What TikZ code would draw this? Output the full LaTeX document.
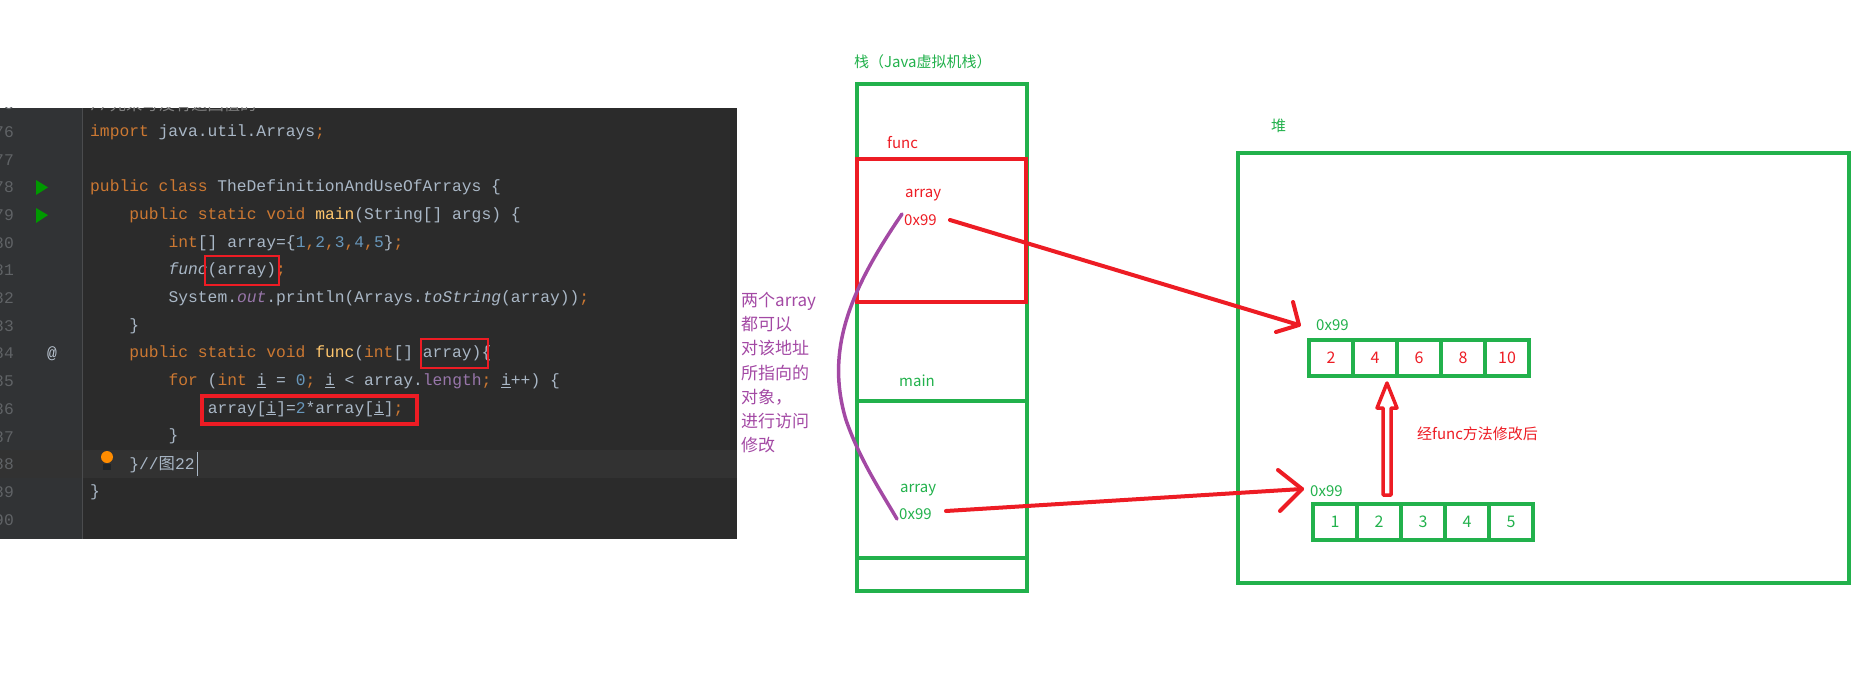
\documentclass[tikz,border=0pt]{standalone}
\usepackage{fontspec}
\setmonofont{Liberation Mono}
\newfontfamily\cjk{Noto Sans CJK SC}
\definecolor{bg}{HTML}{2B2B2B}
\definecolor{gut}{HTML}{313335}
\definecolor{hl}{HTML}{323232}
\definecolor{lnum}{HTML}{606366}
\definecolor{ckw}{HTML}{CC7832}
\definecolor{cpl}{HTML}{A9B7C6}
\definecolor{cnm}{HTML}{6897BB}
\definecolor{cfn}{HTML}{FFC66D}
\definecolor{cfd}{HTML}{9876AA}
\definecolor{ccm}{HTML}{808080}
\definecolor{gr}{HTML}{22B14C}
\definecolor{rd}{HTML}{ED1C24}
\definecolor{pu}{HTML}{A349A4}
\newcommand{\kw}[1]{\textcolor{ckw}{#1}}
\newcommand{\nm}[1]{\textcolor{cnm}{#1}}
\newcommand{\fn}[1]{\textcolor{cfn}{#1}}
\newcommand{\fd}[1]{\textcolor{cfd}{#1}}
\newcommand{\ul}[1]{\underline{#1}}
\tikzset{
  code/.style={anchor=west,inner sep=0,font=\ttfamily\fontsize{16.3}{18}\selectfont,text=cpl},
  lno/.style={anchor=east,inner sep=0,font=\ttfamily\fontsize{16.3}{18}\selectfont,text=lnum},
  lab/.style={anchor=west,inner sep=0,font=\cjk\fontsize{15}{18}\selectfont},
  gbox/.style={draw=gr,line width=4pt},
  rline/.style={draw=rd,line width=4pt,line cap=round,line join=round},
}
\begin{document}
\begin{tikzpicture}[x=1pt,y=-1pt]
\useasboundingbox (0,0) rectangle (1869,690);
% code panel
\begin{scope}
\clip (0,108) rectangle (737,539);
\fill[bg] (0,108) rectangle (737,539);
\fill[gut] (0,108) rectangle (82,539);
\fill[hl] (0,450) rectangle (737,478);
\draw[lnum!60!bg] (82,108) -- (82,539);
\node[code,text=ccm] (l75) at (90,104) {//{\cjk 先来写没有返回值的}};
\foreach \n/\yy in {75/104,76/132,77/159.7,78/187.4,79/215.1,80/242.8,81/270.5,82/298.2,83/325.9,84/353.6,85/381.3,86/409,87/436.7,88/464.4,89/492.1,90/519.8}
  \node[lno] (n\n) at (14,\yy) {\n};
\node[code] (l76) at (90,132) {\kw{import} java.util.Arrays\kw{;}};
\node[code] (l78) at (90,187.4) {\kw{public class} TheDefinitionAndUseOfArrays \{};
\node[code] (l79) at (129.2,215.1) {\kw{public static void} \fn{main}(String[] args) \{};
\node[code] (l80) at (168.4,242.8) {\kw{int}[] array=\{\nm{1}\kw{,}\nm{2}\kw{,}\nm{3}\kw{,}\nm{4}\kw{,}\nm{5}\}\kw{;}};
\node[code] (l81) at (168.4,270.5) {\textit{func}(array)\kw{;}};
\node[code] (l82) at (168.4,298.2) {System.\fd{\textit{out}}.println(Arrays.\textit{toString}(array))\kw{;}};
\node[code] (l83) at (129.2,325.9) {\}};
\node[code] (l84) at (129.2,353.6) {\kw{public static void} \fn{func}(\kw{int}[] array)\{};
\node[code] (l85) at (168.4,381.3) {\kw{for} (\kw{int} \ul{i} = \nm{0}\kw{;} \ul{i} < array.\fd{length}\kw{;} \ul{i}++) \{};
\node[code] (l86) at (207.6,409) {array[\ul{i}]=\nm{2}*array[\ul{i}]\kw{;}};
\node[code] (l87) at (168.4,436.7) {\}};
\node[code] (l88) at (129.2,464.4) {\}//{\cjk 图}22};
\node[code] (l89) at (90,492.1) {\}};
\draw[cpl] (197,452) -- (197,476);
\fill[green!60!black] (36,180) -- (48,187.4) -- (36,195) -- cycle;
\fill[green!60!black] (36,208) -- (48,215.1) -- (36,223) -- cycle;
\node[code,text=cpl!80!white] (at84) at (47,353.6) {@};
\fill[orange!90!yellow] (107,457) circle (6);
\fill[lnum!140] (103,464) rectangle (111,470);
\draw[rd,line width=1.2pt] (205,256) rectangle (279,285);
\draw[rd,line width=1.2pt] (421,339) rectangle (488,368);
\draw[rd,line width=4pt] (202,396) rectangle (417,424);
\end{scope}
% stack
\node[lab,text=gr] (stt) at (854,62) {栈（Java虚拟机栈）};
\draw[gbox] (857,84) rectangle (1027,591);
\draw[gr,line width=4pt] (857,401) -- (1027,401);
\draw[gr,line width=4pt] (857,558) -- (1027,558);
\draw[rd,line width=4pt] (857,159) rectangle (1026,302);
\node[lab,text=rd] (func) at (887,143) {func};
\node[lab,text=rd] (a1) at (905,195) {array};
\node[lab,text=rd] (p1) at (904,220) {0x99};
\node[lab,text=gr] (mn) at (899,381) {main};
\node[lab,text=gr] (a2) at (900,490) {array};
\node[lab,text=gr] (p2) at (899,514) {0x99};
% purple note
\node[lab,text=pu,anchor=north west,align=left,font=\cjk\fontsize{17}{24.2}\selectfont] (note) at (741,292)
 {两个array\\都可以\\对该地址\\所指向的\\对象，\\进行访问\\修改};
\coordinate (c1) at (902,214);
\coordinate (c2) at (897,519);
\draw[pu,line width=3.5pt,line cap=round] (c1) .. controls (850,290) and (825,350) .. (846,420) .. controls (860,460) and (880,490) .. (c2);
% heap
\node[lab,text=gr] (heap) at (1271,126) {堆};
\draw[gbox] (1238,153) rectangle (1849,583);
\node[lab,text=gr] (h1) at (1316,325) {0x99};
\node[lab,text=gr] (h2) at (1310,491) {0x99};
\foreach \i/\v in {0/2,1/4,2/6,3/8,4/10}{
  \draw[gbox] (1309+44*\i,340) rectangle (1353+44*\i,376);
  \node[text=rd,font=\cjk\fontsize{16}{18}\selectfont,inner sep=0] (t\i) at (1331+44*\i,358) {\v};
}
\foreach \i/\v in {0/1,1/2,2/3,3/4,4/5}{
  \draw[gbox] (1313+44*\i,504) rectangle (1357+44*\i,540);
  \node[text=gr,font=\cjk\fontsize{16}{18}\selectfont,inner sep=0] (b\i) at (1335+44*\i,522) {\v};
}
% arrows
\coordinate (e1) at (1299,325);
\coordinate (e2) at (1302,489);
\draw[rline] (950,220) -- (e1);
\draw[rline] (1293,302) -- (e1) -- (1276,332);
\draw[rline] (946,511) -- (e2);
\draw[rline] (1278,470) -- (e2) -- (1280,511);
\draw[rd,line width=3.5pt,line join=round] (1383,495) -- (1383,408) -- (1377,408) -- (1387,383) -- (1397,408) -- (1391,408) -- (1391,495) -- cycle;
\node[lab,text=rd] (mod) at (1417,434) {经func方法修改后};
\end{tikzpicture}
\end{document}
